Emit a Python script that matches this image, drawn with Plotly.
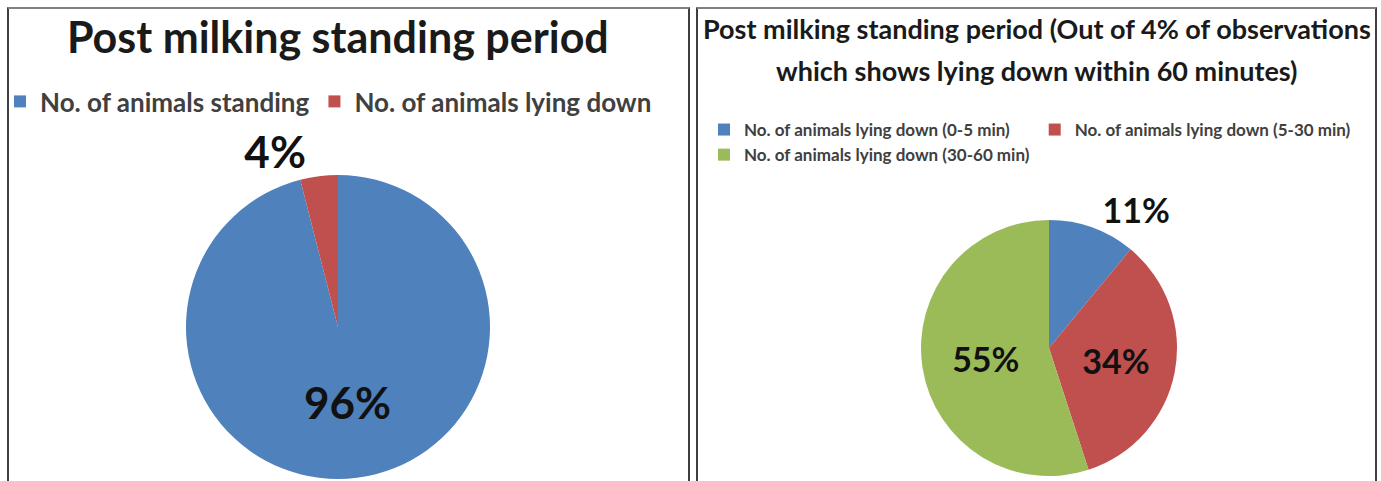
import plotly.graph_objects as go

# ---- data ----
left_title = "Post milking standing period"
left_labels = ["No. of animals standing", "No. of animals lying down"]
left_values = [96, 4]
left_colors = ["#4F81BD", "#C0504D"]

right_title_1 = "Post milking standing period (Out of 4% of observations"
right_title_2 = "which shows lying down within 60 minutes)"
right_labels = ["No. of animals lying down (0-5 min)",
                "No. of animals lying down (5-30 min)",
                "No. of animals lying down (30-60 min)"]
right_values = [11, 34, 55]
right_colors = ["#4F81BD", "#C0504D", "#9BBB59"]

# ---- page geometry ----
W_PAGE, H_PAGE = 1381, 481
ML, MR = 180, 204          # plot area spans x = 180 .. 1177
GW = W_PAGE - ML - MR


def px(x):
    return (x - ML) / GW


def py(y):
    return 1 - y / H_PAGE


FONT = "Lato"
LEG2_PAD = 60   # transparent border of the right legend (keeps 2 entries per row)

fig = go.Figure()

fig.add_trace(go.Pie(
    labels=left_labels, values=left_values, sort=False, direction="clockwise",
    rotation=0, marker=dict(colors=left_colors, line=dict(width=0)),
    texttemplate="%{percent:.0%}", textposition=["inside", "outside"],
    insidetextorientation="horizontal",
    textfont=dict(family=FONT, size=44, color="#111111", weight="bold"),
    domain=dict(x=[px(186), px(490)], y=[py(479), py(175)]),
    legend="legend", hoverinfo="label+percent",
))

fig.add_trace(go.Pie(
    labels=right_labels, values=right_values, sort=False, direction="clockwise",
    rotation=0, marker=dict(colors=right_colors, line=dict(width=0)),
    texttemplate="%{percent:.0%}", textposition=["outside", "inside", "inside"],
    insidetextorientation="horizontal",
    textfont=dict(family=FONT, size=34, color="#111111", weight="bold"),
    domain=dict(x=[px(921), px(1177)], y=[py(476), py(220)]),
    legend="legend2", hoverinfo="label+percent",
))

annotations = [
    dict(text=left_title, x=px(338), y=py(37), xref="paper", yref="paper",
         xanchor="center", yanchor="middle", showarrow=False,
         font=dict(family=FONT, size=43, color="#1a1a1a", weight="bold")),
    dict(text=right_title_1, x=px(1037), y=py(28), xref="paper", yref="paper",
         xanchor="center", yanchor="middle", showarrow=False,
         font=dict(family=FONT, size=27, color="#1a1a1a", weight="bold")),
    dict(text=right_title_2, x=px(1037), y=py(70), xref="paper", yref="paper",
         xanchor="center", yanchor="middle", showarrow=False,
         font=dict(family=FONT, size=27, color="#1a1a1a", weight="bold")),
]

shapes = [
    dict(type="rect", xref="paper", yref="paper", x0=px(8), x1=px(689),
         y0=py(495), y1=py(8), line=dict(color="black", width=1.5)),
    dict(type="rect", xref="paper", yref="paper", x0=px(697), x1=px(1376),
         y0=py(495), y1=py(8), line=dict(color="black", width=1.5)),
    dict(type="line", xref="paper", yref="paper", x0=px(8), x1=px(689),
         y0=py(8), y1=py(8), line=dict(color="#808080", width=2)),
    dict(type="line", xref="paper", yref="paper", x0=px(697), x1=px(1376),
         y0=py(8), y1=py(8), line=dict(color="#808080", width=2)),
]

fig.update_layout(
    width=W_PAGE, height=H_PAGE,
    margin=dict(l=ML, r=MR, t=0, b=0, autoexpand=False),
    paper_bgcolor="white", plot_bgcolor="white",
    annotations=annotations, shapes=shapes,
    legend=dict(orientation="h", xref="container", yref="container",
                x=0.0, y=1 - 78 / H_PAGE, xanchor="left", yanchor="top",
                font=dict(family=FONT, size=26, color="#404040", weight="bold"),
                bgcolor="rgba(0,0,0,0)", traceorder="normal"),
    legend2=dict(orientation="h", xref="paper", yref="paper",
                 x=px(704 - LEG2_PAD), y=py(112 - LEG2_PAD),
                 xanchor="left", yanchor="top",
                 font=dict(family=FONT, size=17, color="#404040", weight="bold"),
                 bgcolor="rgba(0,0,0,0)", bordercolor="rgba(0,0,0,0)",
                 borderwidth=LEG2_PAD, traceorder="normal"),
)

fig.write_html("out.html", config={"displayModeBar": False},
               post_script="document.body.style.margin='0px';")
